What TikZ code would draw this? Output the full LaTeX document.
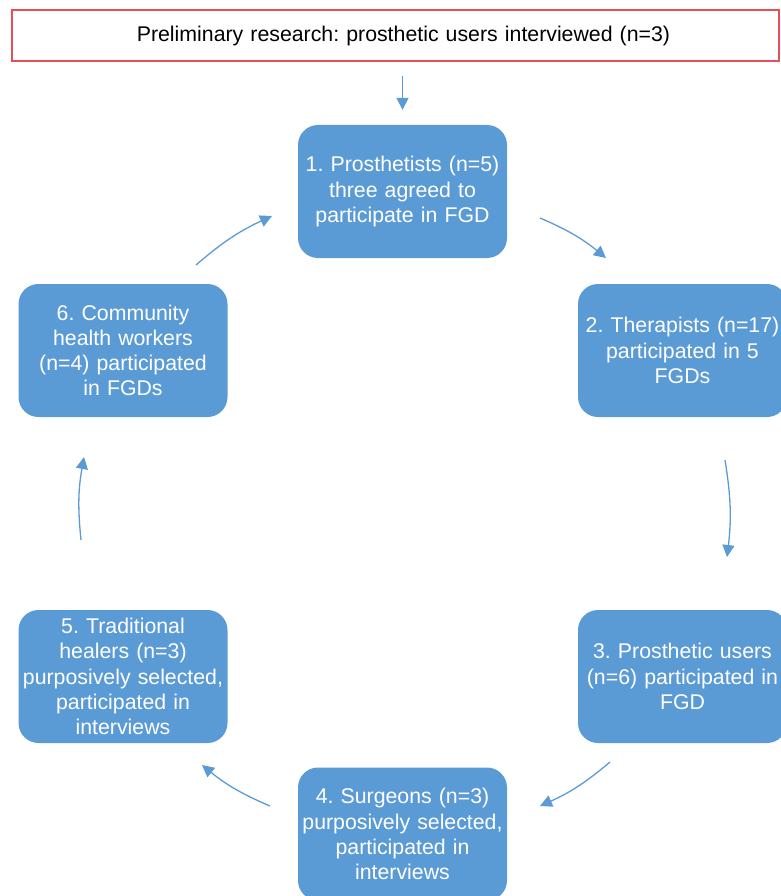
\documentclass[tikz,border=0pt]{standalone}
\usepackage{fontspec}
\setmainfont{Liberation Sans}
\usetikzlibrary{arrows.meta}
\definecolor{boxblue}{RGB}{91,155,213}
\definecolor{boxred}{RGB}{232,78,88}
\frenchspacing

\begin{document}
\begin{tikzpicture}[
                x=1pt, y=1pt,
                box/.style={rectangle, rounded corners=20pt, fill=boxblue, text=white, minimum width=209pt, minimum height=133pt, inner sep=0pt, text width=207pt, align=center, font=\fontsize{21.3}{25.2}\selectfont},
                prebox/.style={rectangle, draw=boxred, line width=1.4pt, minimum width=767pt, minimum height=51pt, inner sep=0pt, text width=765pt, align=center, font=\fontsize{21.3}{25}\selectfont},
                arrow/.style={-{Triangle[length=12pt, width=12pt]}, line width=1.3pt, draw=boxblue}
            ]

\useasboundingbox (0,0) rectangle (780,-896);

\node[prebox] (pre) at (395.5,-35.5) {\hspace*{16pt}Preliminary research: prosthetic users interviewed (n=3)};

\node[box] (prosth) at (402.5,-191.5) {1. Prosthetists (n=5)\\three agreed to\\participate in FGD};
            \node[box] (ther) at (682.5,-350.5) {2. Therapists (n=17)\\participated in 5\\FGDs};
            \node[box] (users) at (682.5,-676.5) {3. Prosthetic users\\(n=6) participated in\\FGD};
            \node[box] (surg) at (402.5,-834) {4. Surgeons (n=3)\\purposively selected,\\participated in\\interviews};
            \node[box] (heal) at (123,-676.5) {5. Traditional\\healers (n=3)\\purposively selected,\\participated in\\interviews};
            \node[box] (chw) at (123,-350.5) {6. Community\\health workers\\(n=4) participated\\in FGDs};

% arrow ends between the boxes
\coordinate (a1) at (540,-218);  \coordinate (b1) at (606,-258);
            \coordinate (a2) at (725,-460);  \coordinate (b2) at (727,-557);
            \coordinate (a3) at (610,-762);  \coordinate (b3) at (540,-806);
            \coordinate (a4) at (270,-806);  \coordinate (b4) at (202,-765);
            \coordinate (a5) at (81,-540);   \coordinate (b5) at (84,-457);
            \coordinate (a6) at (196,-265);  \coordinate (b6) at (272,-216);

\draw[arrow, shorten <=14pt, shorten >=15pt] (pre.south -| prosth) -- (prosth.north);

\foreach \i in {1,...,6}
                \draw[arrow] (a\i) to[bend left=8] (b\i);

            \end{tikzpicture}
\end{document}
